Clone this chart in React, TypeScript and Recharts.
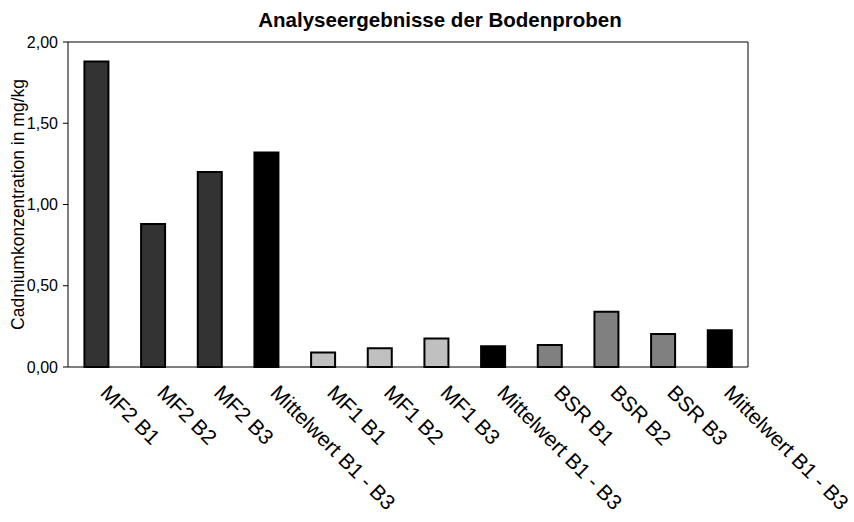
import React from "react";
import { BarChart, Bar, XAxis, YAxis, Cell, Label } from "recharts";

// Probenbezeichnungen und Cadmiumwerte (mg/kg)
const samples = [
  "MF2 B1",
  "MF2 B2",
  "MF2 B3",
  "Mittelwert B1 - B3",
  "MF1 B1",
  "MF1 B2",
  "MF1 B3",
  "Mittelwert B1 - B3",
  "BSR B1",
  "BSR B2",
  "BSR B3",
  "Mittelwert B1 - B3",
];
const cadmium = [1.88, 0.88, 1.2, 1.32, 0.09, 0.115, 0.175, 0.127, 0.135, 0.34, 0.203, 0.226];
const yTicks = [0, 0.5, 1, 1.5, 2];
const edgeTicks = [0, 1, 2, 3, 4, 5, 6, 7, 8, 9, 10, 11, 12];

const FONT = "'Liberation Sans', Arial, sans-serif";

const fillFor = (name: string) => {
  if (name.startsWith("Mittelwert")) return "#000000";
  if (name.startsWith("MF2")) return "#333333";
  if (name.startsWith("MF1")) return "#c0c0c0";
  return "#808080";
};

const data = samples.map((name, i) => ({ name, value: cadmium[i] }));

const fmt = (v: number) => v.toFixed(2).replace(".", ",");

const SlantTick = (props: any) => {
  const { x, payload } = props;
  // fixed offset below the plot bottom (367)
  const ax = x + 3;
  const ay = 394;
  return (
    <text
      x={ax}
      y={ay}
      transform={`rotate(45, ${ax}, ${ay})`}
      textAnchor="start"
      fontSize={21}
      fontFamily={FONT}
      fill="#000"
    >
      {payload.value}
    </text>
  );
};

export default function App() {
  return (
    <div style={{ position: "absolute", left: 0, top: 0, width: 854, height: 522, background: "#fff" }}>
      <div
        style={{
          position: "absolute",
          left: 0,
          top: 8,
          width: 880,
          textAlign: "center",
          fontFamily: FONT,
          fontWeight: "bold",
          fontSize: 20.5,
          lineHeight: "24px",
          color: "#000",
        }}
      >
        Analyseergebnisse der Bodenproben
      </div>
      <BarChart
        width={854}
        height={522}
        data={data}
        margin={{ top: 41, right: 105, bottom: 0, left: 0 }}
        barCategoryGap="29%"
      >
        <XAxis
          xAxisId={0}
          type="number"
          domain={[0, 12]}
          ticks={edgeTicks}
          tick={false}
          tickSize={5}
          height={10}
          stroke="#000"
          allowDataOverflow
        />
        <XAxis
          xAxisId="cat"
          dataKey="name"
          type="category"
          axisLine={false}
          tickLine={false}
          interval={0}
          height={145}
          tick={<SlantTick />}
        />
        <XAxis xAxisId="top" orientation="top" dataKey="name" tick={false} tickLine={false} height={1} stroke="#000" />
        <YAxis
          yAxisId="left"
          domain={[0, 2]}
          ticks={yTicks}
          tickFormatter={fmt}
          tickSize={5}
          tickMargin={5}
          width={68}
          stroke="#000"
          tick={{ fill: "#000", fontSize: 16, fontFamily: FONT }}
        >
          <Label
            value="Cadmiumkonzentration in mg/kg"
            angle={-90}
            position="insideLeft"
            offset={18}
            style={{ textAnchor: "middle", fill: "#000", fontSize: 17.5, fontFamily: FONT }}
          />
        </YAxis>
        <YAxis yAxisId="right" orientation="right" domain={[0, 2]} tick={false} tickLine={false} width={1} stroke="#000" />
        <Bar
          dataKey="value"
          xAxisId="cat"
          yAxisId="left"
          stroke="#000"
          strokeWidth={2}
          isAnimationActive={false}
        >
          {data.map((d, i) => (
            <Cell key={`bar-${i}`} fill={fillFor(d.name)} />
          ))}
        </Bar>
      </BarChart>
    </div>
  );
}
